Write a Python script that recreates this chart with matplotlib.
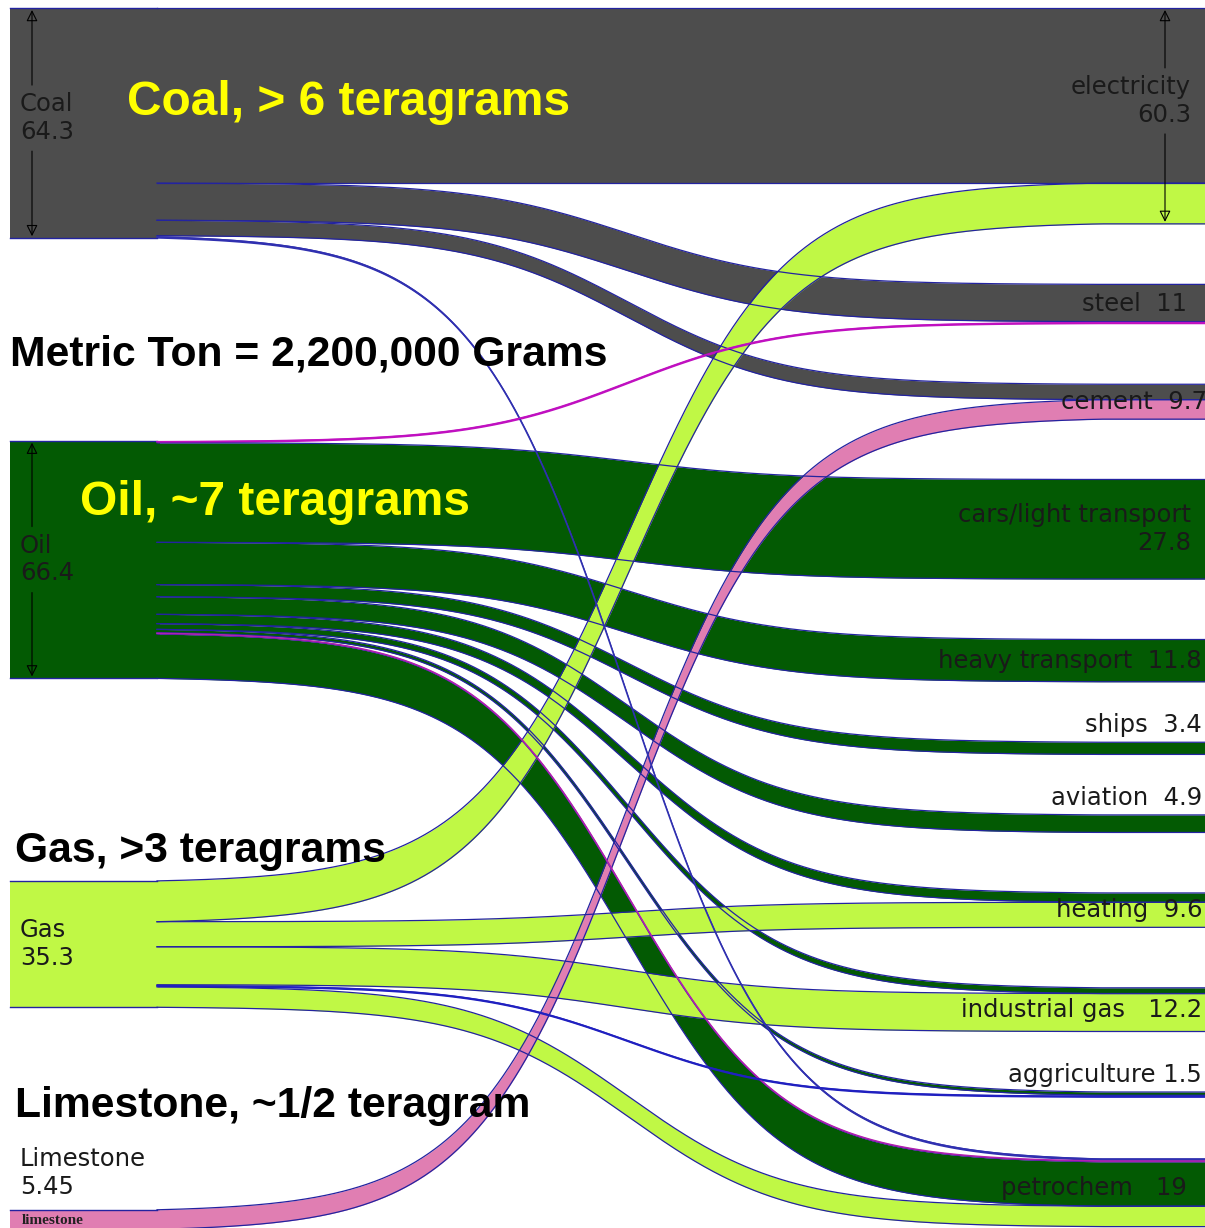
import numpy as np
import matplotlib.pyplot as plt

# fuels (left) and uses (right), values as printed on the chart
sources = ['Coal', 'Oil', 'Gas', 'Limestone']
source_values = [64.3, 66.4, 35.3, 5.45]

targets = ['electricity', 'steel', 'cement', 'cars/light transport',
           'heavy transport', 'ships', 'aviation', 'heating',
           'industrial gas', 'aggriculture', 'petrochem']
target_values = [60.3, 11, 9.7, 27.8, 11.8, 3.4, 4.9, 9.6, 12.2, 1.5, 19]
target_labels = ['electricity\n60.3', 'steel  11', 'cement  9.7',
                 'cars/light transport\n27.8', 'heavy transport  11.8',
                 'ships  3.4', 'aviation  4.9', 'heating  9.6',
                 'industrial gas   12.2', 'aggriculture 1.5', 'petrochem   19']

# flows, in stacking order (top to bottom) at both ends
flow_src = ['Coal', 'Coal', 'Coal', 'Coal',
            'Oil', 'Oil', 'Oil', 'Oil', 'Oil', 'Oil', 'Oil', 'Oil', 'Oil', 'Oil',
            'Gas', 'Gas', 'Gas', 'Gas', 'Gas',
            'Limestone']
flow_dst = ['electricity', 'steel', 'cement', 'petrochem',
            'steel', 'cars/light transport', 'heavy transport', 'ships',
            'aviation', 'heating', 'industrial gas', 'aggriculture',
            'petrochem', 'petrochem',
            'electricity', 'heating', 'industrial gas', 'aggriculture', 'petrochem',
            'cement']
flow_val = [48.9, 10.4, 4.3, 0.7,
            0.6, 27.8, 11.8, 3.4, 4.9, 2.6, 1.6, 0.9, 0.4, 12.4,
            11.4, 7.0, 10.6, 0.6, 5.7,
            5.45]

# styling / layout
colors = {'Coal': '#4d4d4d', 'Oil': '#035a03', 'Gas': '#c0f845',
          'Limestone': '#e07eb2'}
thin_colors = {('Oil', 'steel'): '#c010c0', ('Oil', 'petrochem'): '#b020b0',
               ('Coal', 'petrochem'): '#3030b0', ('Gas', 'aggriculture'): '#2020c0'}
edge = '#2323a0'
scale = 3.58          # px per unit
top = 8
left_gap = 202.5
right_gap = 60.5
x_left, x_a, x_b, x_right = 10, 157, 1100, 1205


def ease(x, xa=x_a, xb=x_b, s=78.0):
    xc = (xa + xb) / 2
    lo = 1 / (1 + np.exp((xc - xa) / s))
    hi = 1 / (1 + np.exp((xc - xb) / s))
    v = 1 / (1 + np.exp((xc - x) / s))
    return np.clip((v - lo) / (hi - lo), 0, 1)


# node positions
src_top = {}
y = top
for name, v in zip(sources, source_values):
    src_top[name] = y
    y += v * scale + left_gap

dst_top = {}
y = top
for name, v in zip(targets, target_values):
    dst_top[name] = y
    y += v * scale + right_gap

fig = plt.figure(figsize=(12.05, 12.28), dpi=100)
ax = fig.add_axes([0, 0, 1, 1])
ax.set_xlim(0, 1205)
ax.set_ylim(1228, 0)
ax.axis('off')

# flows
xs = np.linspace(x_a, x_right, 800)
e = ease(xs)
s_off = {n: 0.0 for n in sources}
d_off = {n: 0.0 for n in targets}
edges = []
thin = []
for s, d, v in zip(flow_src, flow_dst, flow_val):
    y0 = src_top[s] + s_off[s]
    y1 = dst_top[d] + d_off[d]
    s_off[s] += v * scale
    d_off[d] += v * scale
    upper = y0 + (y1 - y0) * e
    lower = upper + v * scale
    if (s, d) in thin_colors and v < 1:
        thin.append((upper, lower, thin_colors[(s, d)]))
        continue
    ax.fill_between(xs, upper, lower, color=colors[s], lw=0)
    edges.append((upper, lower))

# left node blocks (drawn a little past the flow start to hide the seam)
for name, v in zip(sources, source_values):
    t = src_top[name]
    ax.fill_between([x_left, x_a + 3], t, t + v * scale, color=colors[name], lw=0)
    ax.plot([x_left, x_a], [t, t], color=edge, lw=1.0)
    ax.plot([x_left, x_a], [t + v * scale, t + v * scale], color=edge, lw=1.0)

for upper, lower in edges:
    ax.plot(xs, upper, color=edge, lw=0.9)
    ax.plot(xs, lower, color=edge, lw=0.9)
for upper, lower, c in thin:
    ax.fill_between(xs, upper, lower, color=c, lw=0)
    ax.plot(xs, (upper + lower) / 2, color=c, lw=1.2)

# node labels
lab_font = dict(family='DejaVu Sans', fontsize=17.5, color='#1a1a1a')


def span_arrows(x, t, b, yc, half=33):
    ap = dict(arrowstyle='-|>', lw=0.8, ec='black', fc='none',
              mutation_scale=17, shrinkA=0, shrinkB=0)
    ax.annotate('', xy=(x, t + 2), xytext=(x, yc - half), arrowprops=ap)
    ax.annotate('', xy=(x, b - 2), xytext=(x, yc + half), arrowprops=ap)


left_shift = {'Coal': -5}
for name, v in zip(sources, source_values):
    t = src_top[name]
    b = t + v * scale
    if name == 'Limestone':
        ax.text(20, t - 37, f'{name}\n{v}', ha='left', va='center', **lab_font)
        ax.text(22, (t + b) / 2 + 1, 'limestone', ha='left', va='center',
                family='Liberation Serif', weight='bold', fontsize=11,
                color='#222222')
        continue
    yc = (t + b) / 2 + left_shift.get(name, 0)
    ax.text(20, yc, f'{name}\n{v}', ha='left', va='center', **lab_font)
    if b - t > 200:
        span_arrows(32, t, b, yc)

right_x = {'electricity': 1191, 'steel': 1187, 'cars/light transport': 1191,
           'petrochem': 1187, 'cement': 1207}
for name, v, lab in zip(targets, target_values, target_labels):
    t = dst_top[name]
    b = t + v * scale
    xr = right_x.get(name, 1202)
    if b - t < 20:
        yc = t - 17
    else:
        yc = (t + b) / 2
    if name == 'electricity':
        yc -= 15
    if name == 'petrochem':
        yc -= 4
    ax.text(xr, yc, lab, ha='right', va='center', multialignment='right',
            **lab_font)
    if b - t > 200:
        span_arrows(1165, t, b, yc, half=33)

# headline annotations
big = dict(family='Liberation Sans', weight='bold')
ax.text(127, 115, 'Coal, > 6 teragrams', color='#ffff00', fontsize=34.5,
        va='baseline', **big)
ax.text(10, 365, 'Metric Ton = 2,200,000 Grams', color='black', fontsize=30.7,
        va='baseline', **big)
ax.text(80, 515, 'Oil, ~7 teragrams', color='#ffff00', fontsize=34.5,
        va='baseline', **big)
ax.text(15, 862, 'Gas, >3 teragrams', color='black', fontsize=30.7,
        va='baseline', **big)
ax.text(15, 1117, 'Limestone, ~1/2 teragram', color='black', fontsize=30.7,
        va='baseline', **big)

plt.savefig('out.png', dpi=100)
